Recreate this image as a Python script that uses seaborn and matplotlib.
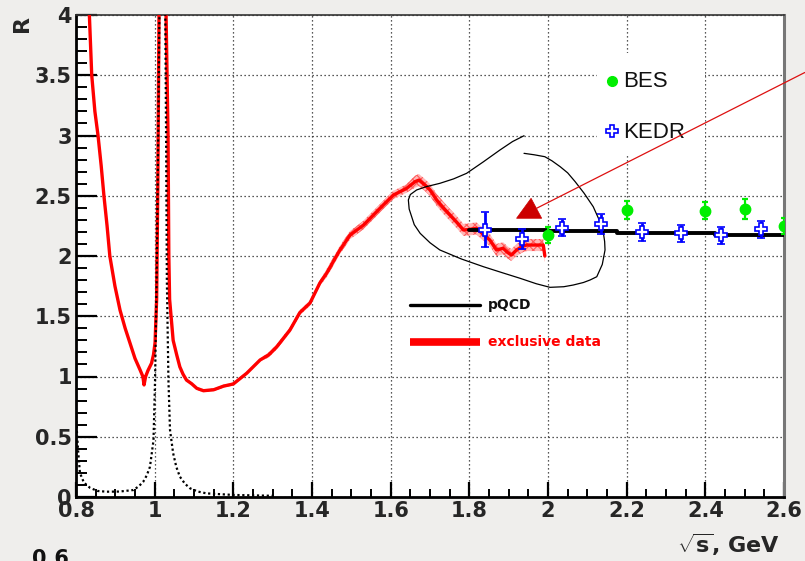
import matplotlib
matplotlib.use("Agg")
import matplotlib.pyplot as plt
import seaborn as sns
import pandas as pd
from matplotlib.ticker import MultipleLocator, FormatStrFormatter
from matplotlib.lines import Line2D
from matplotlib.patches import Polygon, Rectangle

# ---------------- data ----------------
# exclusive-channel sum of R(s) with its uncertainty band
excl_x = [0.832, 0.834, 0.840, 0.848, 0.856, 0.864, 0.871, 0.879, 0.886, 0.899,
          0.912, 0.925, 0.937, 0.950, 0.963, 0.970, 0.973, 0.977, 0.983, 0.992,
          0.997, 1.001, 1.005, 1.008, 1.011, 1.015, 1.022, 1.026, 1.029, 1.032,
          1.034, 1.035, 1.036, 1.038, 1.047, 1.056, 1.064, 1.072, 1.081, 1.094,
          1.107, 1.124, 1.150, 1.175, 1.200, 1.234, 1.268, 1.290, 1.310, 1.344,
          1.369, 1.395, 1.420, 1.437, 1.471, 1.497, 1.531, 1.556, 1.581, 1.607,
          1.624, 1.640, 1.662, 1.672, 1.687, 1.700, 1.717, 1.734, 1.751, 1.768,
          1.785, 1.800, 1.818, 1.835, 1.852, 1.869, 1.886, 1.897, 1.907, 1.920,
          1.935, 1.946, 1.962, 1.988, 1.992]
excl_y = [4.20, 4.00, 3.50, 3.20, 3.00, 2.75, 2.50, 2.25, 2.00, 1.75,
          1.55, 1.40, 1.28, 1.15, 1.054, 1.00, 0.93, 1.00, 1.05, 1.11,
          1.18, 1.28, 1.64, 2.60, 4.00, 5.00, 5.00, 4.50, 4.00, 3.40,
          3.00, 2.50, 2.00, 1.64, 1.30, 1.18, 1.08, 1.02, 0.97, 0.94,
          0.902, 0.882, 0.89, 0.92, 0.938, 1.027, 1.137, 1.18, 1.245, 1.386,
          1.53, 1.61, 1.776, 1.856, 2.05, 2.174, 2.257, 2.34, 2.423, 2.506,
          2.534, 2.56, 2.617, 2.63, 2.589, 2.548, 2.465, 2.40, 2.34, 2.28,
          2.216, 2.22, 2.23, 2.18, 2.133, 2.05, 2.064, 2.03, 2.008, 2.05,
          2.08, 2.091, 2.091, 2.091, 2.00]
excl_err = [0.012] * 47 + [0.022] * 6 + [0.035] * 9 + [0.05] * 23

# narrow resonance contribution (dotted)
phi_x = [0.800, 0.805, 0.810, 0.820, 0.836, 0.855, 0.878, 0.910, 0.946, 0.960,
         0.971, 0.980, 0.988, 0.997, 1.001, 1.005, 1.009, 1.012, 1.016, 1.019,
         1.022, 1.027, 1.029, 1.031, 1.035, 1.039, 1.047, 1.055, 1.064, 1.077,
         1.090, 1.110, 1.132, 1.200, 1.300]
phi_y = [0.67, 0.40, 0.20, 0.12, 0.075, 0.05, 0.044, 0.045, 0.058, 0.09,
         0.127, 0.18, 0.25, 0.47, 0.97, 1.80, 3.00, 4.00, 8.00, 30.0,
         8.00, 4.00, 3.00, 1.80, 0.97, 0.556, 0.363, 0.25, 0.169, 0.11,
         0.072, 0.045, 0.03, 0.017, 0.01]

# perturbative QCD prediction
pqcd_x = [1.8, 2.0, 2.175, 2.425, 2.6]
pqcd_y = [2.216, 2.205, 2.188, 2.177, 2.177]

# inclusive measurements
bes_x = [2.0, 2.2, 2.4, 2.5, 2.6]
bes_y = [2.174, 2.382, 2.376, 2.39, 2.249]
bes_err = [0.07, 0.075, 0.07, 0.085, 0.07]

kedr_x = [1.841, 1.935, 2.036, 2.135, 2.238, 2.338, 2.44, 2.542]
kedr_y = [2.216, 2.141, 2.235, 2.266, 2.197, 2.188, 2.172, 2.222]
kedr_err = [0.145, 0.085, 0.07, 0.085, 0.075, 0.07, 0.07, 0.07]

# hand-drawn highlight: loop, marker triangle and pointer line
loop_x = [1.939, 1.910, 1.878, 1.835, 1.793, 1.760, 1.725, 1.690, 1.666, 1.650,
          1.645, 1.647, 1.660, 1.675, 1.700, 1.725, 1.780, 1.836, 1.885, 1.929,
          1.970, 2.005, 2.040, 2.064, 2.090, 2.107, 2.124, 2.138, 2.145, 2.144,
          2.141, 2.130, 2.115, 2.092, 2.069, 2.050, 2.031, 2.010, 1.992, 1.965,
          1.939]
loop_y = [2.998, 2.950, 2.880, 2.780, 2.686, 2.640, 2.603, 2.575, 2.548, 2.510,
          2.465, 2.390, 2.260, 2.188, 2.110, 2.050, 1.975, 1.911, 1.860, 1.815,
          1.770, 1.740, 1.745, 1.759, 1.780, 1.801, 1.828, 1.930, 2.050, 2.120,
          2.188, 2.300, 2.409, 2.520, 2.617, 2.690, 2.741, 2.790, 2.824, 2.840,
          2.852]
tri_x = [1.920, 1.984, 1.957]
tri_y = [2.313, 2.313, 2.479]
ptr_x = [1.971, 2.653]
ptr_y = [2.396, 3.523]

# ---------------- style ----------------
sns.set_theme(style="white")
plt.rcParams["font.family"] = ["DejaVu Sans"]
plt.rcParams["hatch.linewidth"] = 0.8
plt.rcParams["mathtext.fontset"] = "custom"
plt.rcParams["mathtext.rm"] = "DejaVu Sans"
plt.rcParams["mathtext.bf"] = "DejaVu Sans:bold"

fig = plt.figure(figsize=(8.05, 5.61), dpi=100, facecolor="#efeeec")
ax = fig.add_axes([76 / 805, 1 - 497 / 561, 708 / 805, 482 / 561])
ax.set_facecolor("white")

excl = pd.DataFrame({"x": excl_x, "y": excl_y, "err": excl_err})
phi = pd.DataFrame({"x": phi_x, "y": phi_y})
pqcd = pd.DataFrame({"x": pqcd_x, "y": pqcd_y})

# uncertainty band of the exclusive sum
ax.fill_between(excl["x"], excl["y"] - excl["err"], excl["y"] + excl["err"],
                facecolor="#ffb8b8", edgecolor="#ff5a5a", hatch="xxxx",
                linewidth=0, zorder=2)
sns.lineplot(data=excl, x="x", y="y", ax=ax, color="red", lw=2.4,
             sort=False, estimator=None, zorder=3)
sns.lineplot(data=phi, x="x", y="y", ax=ax, color="black", lw=1.6,
             linestyle=(0, (1.0, 1.2)), sort=False, estimator=None, zorder=3)
sns.lineplot(data=pqcd, x="x", y="y", ax=ax, color="black", lw=2.8,
             drawstyle="steps-post", sort=False, estimator=None, zorder=4)

ax.errorbar(bes_x, bes_y, yerr=bes_err, fmt="o", color="#00ee00", ms=7.5,
            mec="#00ee00", elinewidth=1.6, capsize=2.5, capthick=1.6, zorder=6)
ax.errorbar(kedr_x, kedr_y, yerr=kedr_err, fmt="P", color="#0000ff", ms=9,
            mfc="white", mec="#0000ff", mew=1.2, elinewidth=2.0, capsize=3,
            capthick=2.0, zorder=5)

# highlight annotations
sns.lineplot(x=loop_x, y=loop_y, ax=ax, color="black", lw=0.9, sort=False,
             estimator=None, zorder=4)
ax.add_patch(Polygon(list(zip(tri_x, tri_y)), closed=True, facecolor="#cc0000",
                     edgecolor="#cc0000", lw=0.5, zorder=7))
ax.add_line(Line2D(ptr_x, ptr_y, color="#dd1010", lw=0.9, clip_on=False,
                   zorder=7))

# axes limits, ticks and grid
ax.set_xlim(0.8, 2.6)
ax.set_ylim(0, 4)
ax.xaxis.set_major_locator(MultipleLocator(0.2))
ax.xaxis.set_minor_locator(MultipleLocator(0.05))
ax.yaxis.set_major_locator(MultipleLocator(0.5))
ax.yaxis.set_minor_locator(MultipleLocator(0.1))
ax.xaxis.set_major_formatter(FormatStrFormatter("%g"))
ax.yaxis.set_major_formatter(FormatStrFormatter("%g"))
ax.tick_params(axis="x", which="major", direction="in", length=11, width=1.6,
               color="black", labelsize=15, pad=3, bottom=True, top=False)
ax.tick_params(axis="x", which="minor", direction="in", length=5.5, width=1.4,
               color="black", bottom=True, top=False)
ax.tick_params(axis="y", which="major", direction="in", length=15, width=1.6,
               color="black", labelsize=15, pad=3, left=True, right=False)
ax.tick_params(axis="y", which="minor", direction="in", length=8, width=1.4,
               color="black", left=True, right=False)
for lab in ax.get_xticklabels() + ax.get_yticklabels():
    lab.set_fontweight("bold")
ax.grid(True, which="major", color="#222222", lw=0.9, linestyle=(0, (1, 2.2)))
ax.set_axisbelow(True)

for side in ("left", "bottom"):
    ax.spines[side].set_color("black")
    ax.spines[side].set_linewidth(2.0)
ax.spines["top"].set_color("#333333")
ax.spines["top"].set_linewidth(1.2)
ax.spines["right"].set_color("#777777")
ax.spines["right"].set_linewidth(2.2)

ax.set_xlabel("")
ax.set_ylabel("")
fig.text(22 / 805, 1 - 24 / 561, "R", rotation=90, ha="center", va="center",
         fontsize=16, fontweight="bold")
fig.text(780 / 805, 1 - 545 / 561, r"$\sqrt{\mathbf{s}}$, GeV", ha="right",
         va="center", fontsize=16, fontweight="bold")

# legend for the inclusive measurements (opaque, no border)
ax.add_patch(Rectangle((0.736, 0.710), 0.152, 0.211, transform=ax.transAxes,
                       facecolor="white", edgecolor="none", zorder=1))
ax.plot([0.757], [0.863], "o", color="#00ee00", ms=7, transform=ax.transAxes,
        zorder=6)
ax.text(0.773, 0.863, "BES", transform=ax.transAxes, va="center", ha="left",
        fontsize=16, family=["Liberation Sans"], color="#111111", zorder=6)
ax.plot([0.757], [0.759], "P", color="#0000ff", mfc="white", mec="#0000ff",
        mew=1.2, ms=8, transform=ax.transAxes, zorder=6)
ax.text(0.773, 0.757, "KEDR", transform=ax.transAxes, va="center", ha="left",
        fontsize=16, family=["Liberation Sans"], color="#111111", zorder=6)

# legend for the curves (transparent)
ax.plot([0.472, 0.571], [0.398, 0.398], color="black", lw=2.4,
        transform=ax.transAxes, zorder=6)
ax.text(0.582, 0.398, "pQCD", transform=ax.transAxes, va="center", ha="left",
        fontsize=10, fontweight="bold", color="#111111", zorder=6)
ax.plot([0.472, 0.571], [0.322, 0.322], color="red", lw=5.5,
        solid_capstyle="butt", transform=ax.transAxes, zorder=6)
ax.text(0.582, 0.322, "exclusive data", transform=ax.transAxes, va="center",
        ha="left", fontsize=10, fontweight="bold", color="red", zorder=6)

# edge of the next panel on the page
fig.text(50 / 805, 1 - 549 / 561, "0.6", ha="center", va="top", fontsize=15,
         fontweight="bold", color="#111111")

fig.savefig("out.png", dpi=100, facecolor=fig.get_facecolor())
